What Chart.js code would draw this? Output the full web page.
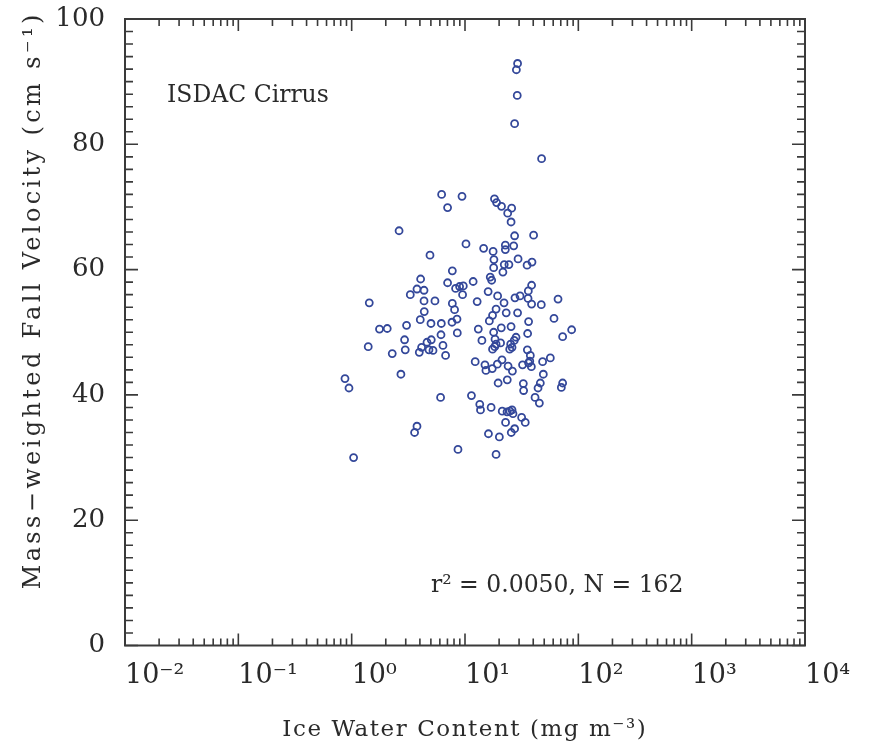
<!DOCTYPE html>
<html><head><meta charset="utf-8">
<script src="https://cdn.jsdelivr.net/npm/chart.js@4"></script>
<style>html,body{margin:0;padding:0;background:#fff}</style>
</head><body>
<canvas id="c" width="872" height="746" style="width:872px;height:746px;display:block"></canvas>
<script>
// Ice water content (mg m^-3)
const iwc = [29.1,28.4,28.9,27.4,47.4,6.22,7.02,9.41,18.2,19.0,21.0,25.8,23.8,25.5,2.62,27.4,40.3,
10.2,14.6,17.7,22.7,22.7,26.9,4.91,18.0,29.4,22.2,24.4,17.9,35.3,39.0,21.6,7.73,16.7,17.2,4.06,7.02,
11.8,8.26,8.96,9.66,9.52,3.77,4.35,3.29,16.0,19.4,38.7,36.2,36.0,27.6,30.6,22.1,38.7,47.1,66.2,1.43,
4.35,5.43,7.73,8.09,12.8,4.37,18.8,17.5,23.1,29.1,4.03,5.01,6.18,7.68,8.50,16.4,36.4,61.0,1.76,2.06,
3.05,8.55,13.1,20.9,25.5,17.9,35.7,87.3,72.7,2.93,6.14,5.04,4.62,4.14,3.95,4.81,5.22,6.39,6.74,14.1,
18.4,18.8,20.6,17.5,28.2,27.2,25.3,26.0,24.8,1.40,2.28,2.97,35.5,37.7,36.4,38.5,32.2,56.6,48.4,12.3,
15.0,15.3,17.4,19.3,21.2,24.0,26.2,2.72,49.1,0.873,0.947,19.6,23.6,32.7,32.9,46.2,44.1,72.7,70.8,6.09,
11.4,41.5,45.3,13.5,13.7,17.0,21.3,23.5,26.0,26.5,31.6,34.0,22.8,3.77,3.59,27.4,25.6,16.1,20.1,8.67,
18.8,1.04,18.3,37.3,24.9];
// Mass-weighted fall velocity (cm s^-1)
const velocity = [92.9,91.9,87.8,83.3,77.7,72.0,69.9,71.7,71.3,70.7,70.1,69.8,69.0,67.6,66.2,65.4,65.5,
64.1,63.4,62.9,63.9,63.2,63.8,62.3,61.6,61.7,60.8,60.8,60.3,60.7,61.2,59.6,59.8,58.8,58.3,58.5,57.9,
58.1,57.0,57.3,57.4,56.0,56.9,56.7,56.0,56.5,55.8,57.5,56.6,55.4,55.5,55.8,54.7,54.5,54.4,55.3,54.7,
55.0,55.0,54.6,53.6,54.9,53.3,53.7,52.7,53.1,53.1,52.0,51.4,51.4,51.6,52.1,51.8,51.7,52.2,50.5,50.6,
51.1,49.9,50.5,50.7,50.9,50.0,49.8,50.4,49.3,48.8,49.6,48.8,48.4,47.6,46.8,47.2,47.1,47.9,46.3,48.7,
48.9,48.1,48.3,47.3,49.2,48.7,48.1,47.6,47.3,47.7,46.6,47.2,47.2,46.3,45.1,44.5,44.8,45.9,45.3,45.3,
44.8,43.9,44.2,44.9,45.6,44.6,43.8,43.3,43.3,42.6,41.1,41.9,42.4,41.8,40.7,41.9,41.1,41.9,41.2,39.6,
39.9,39.6,38.7,38.5,37.6,38.0,37.4,37.3,37.6,37.0,36.4,35.6,35.6,35.0,34.0,34.6,34.0,33.8,33.3,31.3,
30.5,30.0,47.7,45.4,37.4];
const xTickValues = [0.01,0.1,1,10,100,1000,10000];
const xTickLabels = ['10⁻²','10⁻¹','10⁰','10¹','10²','10³','10⁴'];
const yTickValues = [0,20,40,60,80,100];
const yTickLabels = ['0','20','40','60','80','100'];
const xTitle = 'Ice Water Content (mg m⁻³)';
const yTitle = 'Mass−weighted Fall Velocity (cm s⁻¹)';
const titleText = 'ISDAC Cirrus';
const statText = 'r² = 0.0050, N = 162';

const points = iwc.map((v, i) => ({x: v, y: velocity[i]}));
const FONT = 'DejaVu Serif';
const INK = '#2a2a2a';

function spacedText(ctx, text, x, y, targetWidth) {
  ctx.letterSpacing = '0px';
  const w0 = ctx.measureText(text).width;
  const sp = Math.max(0, (targetWidth - w0) / (text.length));
  ctx.letterSpacing = sp.toFixed(2) + 'px';
  ctx.fillText(text, x + sp / 2, y);
  ctx.letterSpacing = '0px';
}

const framePlugin = {
  id: 'frame',
  afterDraw(chart) {
    const {ctx, chartArea: a, scales: {x, y}} = chart;
    ctx.save();
    ctx.strokeStyle = '#3a3a3a';
    ctx.lineWidth = 1.6;
    ctx.beginPath();
    for (let d = -2; d <= 4; d++) {
      for (let m = 1; m <= 9; m++) {
        const v = m * Math.pow(10, d);
        if (v > 10000 * 1.0001) break;
        const px = x.getPixelForValue(v);
        const len = m === 1 ? 12 : 7;
        ctx.moveTo(px, a.bottom); ctx.lineTo(px, a.bottom - len);
        ctx.moveTo(px, a.top); ctx.lineTo(px, a.top + len);
      }
    }
    for (let v = 0; v <= 100; v += 2) {
      const py = y.getPixelForValue(v);
      const len = v % 20 === 0 ? 13 : 8;
      ctx.moveTo(a.left, py); ctx.lineTo(a.left + len, py);
      ctx.moveTo(a.right, py); ctx.lineTo(a.right - len, py);
    }
    ctx.stroke();
    ctx.lineWidth = 2;
    ctx.strokeRect(a.left, a.top, a.right - a.left, a.bottom - a.top);
    ctx.fillStyle = INK;
    ctx.font = '23.5px "' + FONT + '"';
    ctx.textBaseline = 'alphabetic';
    ctx.textAlign = 'left';
    ctx.fillText(titleText, a.left + 42, a.top + 83);
    ctx.fillText(statText, a.left + 306, a.top + 573);
    // axis titles
    ctx.font = '23px "' + FONT + '"';
    ctx.textAlign = 'center';
    spacedText(ctx, xTitle, (a.left + a.right) / 2 - 1, 736, 365);
    ctx.save();
    ctx.font = '24px "' + FONT + '"';
    ctx.translate(40, 302);
    ctx.rotate(-Math.PI / 2);
    spacedText(ctx, yTitle, 0, 0, 578);
    ctx.restore();
    ctx.restore();
  }
};

new Chart(document.getElementById('c'), {
  type: 'scatter',
  data: {datasets: [{
    data: points,
    pointStyle: 'circle',
    pointRadius: 3.5,
    pointBorderWidth: 1.8,
    borderColor: '#34489a',
    backgroundColor: 'rgba(255,255,255,0)',
    pointHoverRadius: 3.5
  }]},
  options: {
    responsive: false,
    animation: false,
    devicePixelRatio: 1,
    layout: {padding: {left: 0, top: 19, right: 67, bottom: 0}},
    plugins: {legend: {display: false}, tooltip: {enabled: false}},
    scales: {
      x: {
        type: 'logarithmic',
        min: 0.01, max: 10000,
        grid: {display: false, drawTicks: false},
        border: {display: false},
        afterBuildTicks: s => { s.ticks = xTickValues.map(v => ({value: v})); },
        afterFit: s => { s.height = 100.5; s.paddingLeft = 0; s.paddingRight = 0; },
        ticks: {
          align: 'start',
          padding: 14,
          color: INK,
          font: {family: FONT, size: 27},
          autoSkip: false,
          maxRotation: 0,
          callback: (v) => { const i = xTickValues.indexOf(v); return i >= 0 ? xTickLabels[i] : ''; }
        },
        title: {display: false}
      },
      y: {
        min: 0, max: 100,
        grid: {display: false, drawTicks: false},
        border: {display: false},
        afterBuildTicks: s => { s.ticks = yTickValues.map(v => ({value: v})); },
        afterFit: s => { s.width = 125; s.paddingTop = 0; s.paddingBottom = 0; },
        ticks: {
          padding: 20,
          color: INK,
          font: {family: FONT, size: 26},
          callback: (v) => { const i = yTickValues.indexOf(v); return i >= 0 ? yTickLabels[i] : ''; }
        },
        title: {display: false}
      }
    }
  },
  plugins: [framePlugin]
});
</script>
</body></html>
